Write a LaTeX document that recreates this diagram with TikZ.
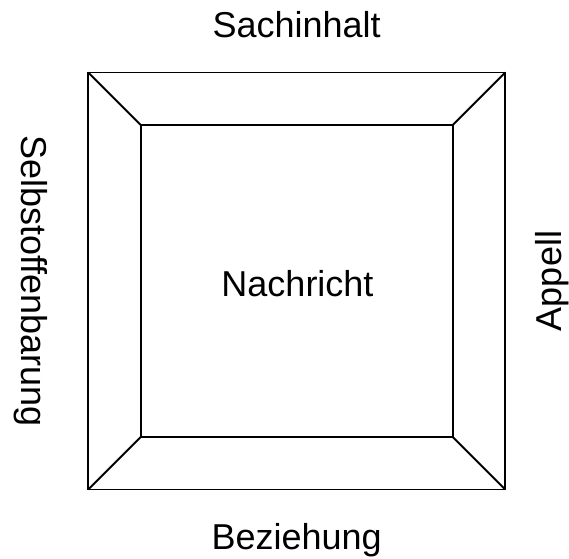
\documentclass[tikz,border=0pt]{standalone}
\usepackage{fontspec}
\setmainfont{Liberation Sans}
\usetikzlibrary{positioning, calc}
\tikzset{
	% quadrat (aeusseres und inneres)
	quadrat/.style={draw, line width=1.9pt, rectangle, outer sep=0pt, inner sep=0pt},
	% beschriftung der seiten
	seite/.style={inner sep=0pt, font=\fontsize{36}{43}\selectfont},
	% kante zwischen den ecken
	kante/.style={line width=1.9pt},
}
\begin{document}
\begin{tikzpicture}[x=1pt, y=1pt]
    \useasboundingbox (-296.7,-277) rectangle (272.3,281);
    \node[quadrat, minimum size=417pt] (aussen) at (0,0) {};
    \node[quadrat, minimum size=312pt] (innen) at (0,0) {};
    \node[seite] (nachricht) at (0.8,-3) {Nachricht};
    \node[seite, above=34.5pt of aussen] (sach) {Sachinhalt};
    \node[seite, below=33.7pt of aussen] (bez) {Beziehung};
    \node[seite, rotate=-90] (selbst) at ($(aussen.center)+(-265.5,0)$) {Selbstoffenbarung};
    \node[seite, rotate=90] (appell) at ($(aussen.center)+(255.8,0)$) {Appell};
    \foreach \ecke in {north west, north east, south east, south west}
        \draw[kante] (aussen.\ecke) -- (innen.\ecke);
\end{tikzpicture}
\end{document}
